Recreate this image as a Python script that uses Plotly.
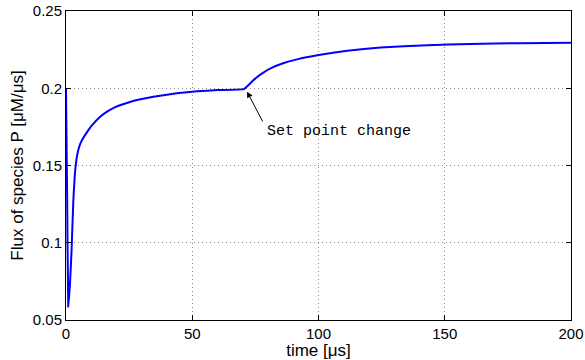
import plotly.graph_objects as go

time_us = [0, 0.45, 0.9, 1.6, 2.2, 2.9, 3.3, 3.6, 4.2, 4.8, 5.6, 6.8, 8.2, 9.5, 10.8, 13, 16.1, 19.5, 24.1, 29,
           34.6, 43.9, 51.9, 60, 70.4,
           72, 73.8, 75.7, 78, 81, 86, 91.5, 100.1, 111.4, 124.6, 143.1, 160, 180, 200]
flux_P = [0.2, 0.13, 0.0586, 0.074, 0.095, 0.127, 0.139, 0.146, 0.1545, 0.1595, 0.1638, 0.1678, 0.1713,
          0.1744, 0.1770, 0.1808, 0.1847, 0.1878, 0.1905, 0.1927,
          0.1945, 0.1967, 0.1980, 0.1988, 0.1994,
          0.2016, 0.2045, 0.2073, 0.2100, 0.2129, 0.2162, 0.2187, 0.2215, 0.2243, 0.2264, 0.2278, 0.2287,
          0.2292, 0.2295]

x_ticks = [0, 50, 100, 150, 200]
y_ticks = [0.05, 0.1, 0.15, 0.2, 0.25]
y_tick_labels = ["0.05", "0.1", "0.15", "0.2", "0.25"]

FONT = "Liberation Sans, Arial, Helvetica"

fig = go.Figure()
fig.add_trace(go.Scatter(x=time_us, y=flux_P, mode="lines",
                         line=dict(color="#0000ff", width=2, shape="spline", smoothing=0.3),
                         showlegend=False))

axis_common = dict(showline=True, linecolor="black", linewidth=1, mirror="ticks",
                   ticks="inside", ticklen=5, tickcolor="black", automargin=False,
                   showgrid=True, gridcolor="rgba(0,0,0,0.45)", griddash="1px,3px", gridwidth=1,
                   zeroline=False, tickfont=dict(family=FONT, size=15, color="black"))

fig.update_xaxes(range=[0, 200], tickvals=x_ticks, **axis_common,
                 title=dict(text="time [μs]", standoff=0,
                            font=dict(family=FONT, size=17, color="black")))
fig.update_yaxes(range=[0.05, 0.25], tickvals=y_ticks, ticktext=y_tick_labels, **axis_common,
                 title=dict(text="Flux of species P [μM/μs]", standoff=4,
                            font=dict(family=FONT, size=17, color="black")))

fig.add_annotation(x=71.7, y=0.1978, ax=78.2, ay=0.1775, axref="x", ayref="y", xref="x", yref="y",
                   text="", showarrow=True, arrowhead=2, arrowsize=1.2, arrowwidth=1, arrowcolor="black")
fig.add_annotation(x=78.9, y=0.1723, xref="x", yref="y", text="Set point change", showarrow=False,
                   xanchor="left", yanchor="middle",
                   font=dict(family="Liberation Mono, Courier New, monospace", size=15, color="black"))

fig.update_layout(width=585, height=360, margin=dict(l=66, r=14, t=11, b=40),
                  plot_bgcolor="white", paper_bgcolor="white")

fig.write_html("out.html", config={"displayModeBar": False},
               post_script="document.body.style.margin='0';document.body.style.overflow='hidden';")
